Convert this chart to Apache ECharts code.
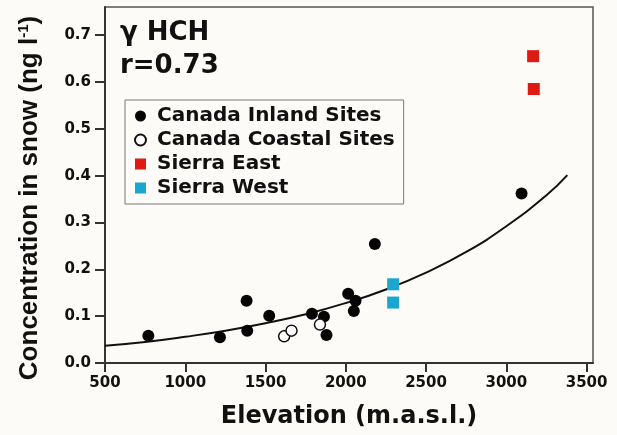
<!DOCTYPE html>
<html>
<head>
<meta charset="utf-8">
<script src="https://cdn.jsdelivr.net/npm/echarts@6/dist/echarts.min.js"></script>
<style>
html,body{margin:0;padding:0;background:#fcfbf8;}
#chart{width:617px;height:435px;}
</style>
</head>
<body>
<div id="chart"></div>
<script>
// Data
const inlandX = [770, 1216, 1382, 1386, 1523, 1789, 1864, 1880, 2015, 2061, 2050, 2181, 3095];
const inlandY = [0.058, 0.055, 0.133, 0.069, 0.101, 0.105, 0.099, 0.060, 0.148, 0.133, 0.111, 0.254, 0.362];
const coastalX = [1616, 1662, 1839];
const coastalY = [0.057, 0.069, 0.082];
const eastX = [3167, 3171];
const eastY = [0.655, 0.585];
const westX = [2295, 2295];
const westY = [0.168, 0.129];
// fitted curve
const fitX = [500, 750, 1000, 1250, 1500, 1750, 2000, 2250, 2500, 2750, 3000, 3250, 3380];
const fitY = [0.037, 0.045, 0.056, 0.069, 0.085, 0.104, 0.128, 0.157, 0.193, 0.237, 0.292, 0.358, 0.401];
const xTicks = [500, 1000, 1500, 2000, 2500, 3000, 3500];
const yTicks = [0.0, 0.1, 0.2, 0.3, 0.4, 0.5, 0.6, 0.7];
const seriesNames = ['Canada Inland Sites', 'Canada Coastal Sites', 'Sierra East', 'Sierra West'];
const titleText = 'γ HCH';
const rText = 'r=0.73';

const zip = (a, b) => a.map((v, i) => [v, b[i]]);
const FONT = 'DejaVu Sans, sans-serif';
const FONT2 = 'Liberation Sans, Arial, sans-serif';
const INK = '#111';

const chart = echarts.init(document.getElementById('chart'));
chart.setOption({
  backgroundColor: '#fcfbf8',
  animation: false,
  textStyle: { fontFamily: FONT },
  title: [
    { text: titleText, left: 120, top: 20, padding: 0, textStyle: { fontSize: 26, fontWeight: 'bold', color: INK, fontFamily: FONT } },
    { text: rText, left: 120, top: 53, padding: 0, textStyle: { fontSize: 26, fontWeight: 'bold', color: INK, fontFamily: FONT } }
  ],
  legend: {
    orient: 'vertical',
    left: 125,
    top: 100,
    padding: [6, 9, 6, 9],
    itemGap: 4,
    itemWidth: 11,
    itemHeight: 11,
    borderColor: '#777',
    borderWidth: 1,
    backgroundColor: '#fcfbf8',
    data: seriesNames,
    textStyle: { fontSize: 20, fontWeight: 'bold', color: INK, lineHeight: 20, padding: [0, 0, 0, 6], fontFamily: FONT }
  },
  grid: {
    left: 105, right: 24, top: 7, bottom: 72,
    show: true, borderColor: '#555', borderWidth: 1.5, backgroundColor: 'transparent'
  },
  xAxis: {
    type: 'value',
    min: 500, max: 3540,
    name: 'Elevation (m.a.s.l.)',
    nameLocation: 'middle',
    nameGap: 42,
    nameTextStyle: { fontSize: 24, fontWeight: 'bold', color: INK, fontFamily: FONT },
    axisLine: { lineStyle: { color: '#333', width: 2 } },
    axisTick: { show: true, length: 9, lineStyle: { color: '#333', width: 2 }, customValues: xTicks },
    axisLabel: { customValues: xTicks, fontSize: 15, fontWeight: 'bold', color: INK, margin: 13, formatter: v => String(v), fontFamily: FONT },
    splitLine: { show: false }
  },
  yAxis: {
    type: 'value',
    min: 0, max: 0.76,
    name: 'Concentration in snow (ng l{sup|-1})',
    nameLocation: 'middle',
    nameGap: 62,
    nameTextStyle: {
      fontSize: 26, fontWeight: 'bold', color: INK, fontFamily: FONT2, padding: [0, 26, 0, 0],
      rich: { sup: { fontSize: 15, fontWeight: 'bold', color: INK, verticalAlign: 'top', padding: [0, 0, 12, 0], fontFamily: FONT2 } }
    },
    axisLine: { show: true, lineStyle: { color: '#333', width: 2 } },
    axisTick: { show: true, length: 10, lineStyle: { color: '#333', width: 2 }, customValues: yTicks },
    axisLabel: { customValues: yTicks, fontSize: 15, fontWeight: 'bold', color: INK, margin: 14, formatter: v => v.toFixed(1), fontFamily: FONT },
    splitLine: { show: false }
  },
  series: [
    {
      name: 'fit', type: 'line', data: zip(fitX, fitY), smooth: true, showSymbol: false,
      lineStyle: { color: '#111', width: 2 }, z: 1, silent: true
    },
    {
      name: seriesNames[0], type: 'scatter', data: zip(inlandX, inlandY), symbol: 'circle', symbolSize: 12,
      itemStyle: { color: '#050505', opacity: 1 }, z: 3
    },
    {
      name: seriesNames[1], type: 'scatter', data: zip(coastalX, coastalY), symbol: 'circle', symbolSize: 11,
      itemStyle: { color: '#ffffff', borderColor: '#111', borderWidth: 1.5, opacity: 1 }, z: 3
    },
    {
      name: seriesNames[2], type: 'scatter', data: zip(eastX, eastY), symbol: 'rect', symbolSize: 12,
      itemStyle: { color: '#dd1b12', opacity: 1 }, z: 3
    },
    {
      name: seriesNames[3], type: 'scatter', data: zip(westX, westY), symbol: 'rect', symbolSize: 12,
      itemStyle: { color: '#1aa6d0', opacity: 1 }, z: 3
    }
  ]
});
</script>
</body>
</html>
